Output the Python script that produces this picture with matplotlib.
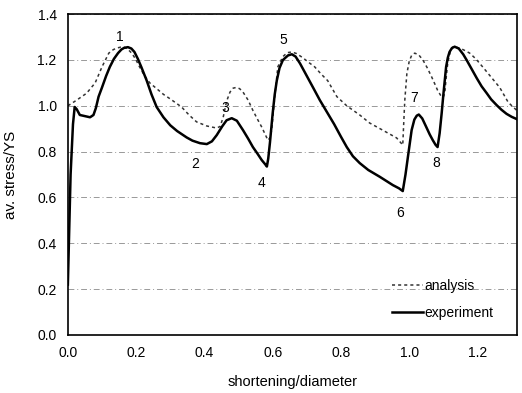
import matplotlib
matplotlib.use("Agg")
import matplotlib.pyplot as plt

plt.rcParams['font.family'] = ['Liberation Sans', 'DejaVu Sans']

# experiment (solid)
exp_x = [0.0, 0.003, 0.008, 0.015, 0.02, 0.026, 0.035, 0.05, 0.065, 0.075, 0.082, 0.09,
         0.1, 0.112, 0.123, 0.135, 0.147, 0.157, 0.165, 0.176, 0.186, 0.195, 0.205, 0.215,
         0.231, 0.245, 0.26, 0.28, 0.30, 0.32, 0.348, 0.365, 0.387,
         0.407, 0.422, 0.436, 0.452, 0.465, 0.48, 0.495, 0.513, 0.528, 0.542, 0.556,
         0.568, 0.578, 0.583, 0.587, 0.592, 0.60,
         0.606, 0.612, 0.62, 0.63, 0.645, 0.656, 0.667, 0.68, 0.70, 0.72, 0.738, 0.758,
         0.78, 0.80, 0.817, 0.835, 0.855, 0.88, 0.914,
         0.952, 0.97, 0.981, 0.989, 0.996, 1.007, 1.015, 1.022, 1.028, 1.038, 1.05, 1.06,
         1.069, 1.077, 1.083, 1.089, 1.095, 1.1, 1.104,
         1.108, 1.113, 1.118, 1.125, 1.133, 1.145, 1.158, 1.168, 1.183, 1.198, 1.212,
         1.227, 1.24, 1.256, 1.27, 1.285, 1.30, 1.315]
exp_y = [0.22, 0.40, 0.70, 0.92, 0.995, 0.985, 0.96, 0.955, 0.95, 0.96, 0.99, 1.04,
         1.08, 1.13, 1.17, 1.205, 1.23, 1.246, 1.253, 1.256, 1.25, 1.235, 1.205, 1.17,
         1.11, 1.05, 0.995, 0.95, 0.915, 0.89, 0.862, 0.848, 0.837,
         0.833, 0.845, 0.872, 0.91, 0.937, 0.946, 0.935, 0.894, 0.857, 0.82, 0.79,
         0.763, 0.745, 0.735, 0.77, 0.84, 0.968,
         1.05, 1.11, 1.165, 1.20, 1.22, 1.225, 1.215, 1.185, 1.13, 1.075, 1.025, 0.975,
         0.92, 0.865, 0.82, 0.78, 0.75, 0.72, 0.69,
         0.654, 0.64, 0.628, 0.70, 0.776, 0.894, 0.94, 0.957, 0.962, 0.945, 0.907, 0.875,
         0.85, 0.83, 0.82, 0.88, 0.968, 1.05, 1.11,
         1.17, 1.21, 1.235, 1.252, 1.258, 1.25, 1.225, 1.2, 1.16, 1.12, 1.085,
         1.055, 1.028, 1.003, 0.983, 0.965, 0.952, 0.942]

# analysis (dotted)
ana_x = [0.0, 0.026, 0.055, 0.08, 0.1, 0.12, 0.133, 0.143, 0.155, 0.167, 0.177, 0.187,
         0.198, 0.21, 0.225, 0.24, 0.26, 0.28,
         0.30, 0.333, 0.355, 0.377, 0.407, 0.436, 0.446, 0.455, 0.465, 0.475, 0.484,
         0.493, 0.503, 0.513, 0.528,
         0.542, 0.556, 0.568, 0.586, 0.592, 0.597, 0.606, 0.615, 0.63, 0.643, 0.656, 0.67,
         0.688, 0.705, 0.723, 0.741, 0.761,
         0.788, 0.817, 0.855, 0.884, 0.922, 0.963, 0.981, 0.984, 0.987, 0.993, 1.0, 1.007,
         1.016, 1.028, 1.04, 1.053, 1.066, 1.075, 1.083, 1.095, 1.1, 1.104, 1.108, 1.113,
         1.12, 1.127, 1.14, 1.158, 1.177, 1.195, 1.215, 1.24,
         1.265, 1.29, 1.315]
ana_y = [1.0, 1.025, 1.055, 1.10, 1.17, 1.23, 1.245, 1.252, 1.256, 1.255, 1.245, 1.23,
         1.205, 1.17, 1.13, 1.10, 1.075, 1.05,
         1.03, 0.995, 0.96, 0.93, 0.912, 0.903, 0.91, 0.95, 1.02, 1.06, 1.077,
         1.08, 1.075, 1.06, 1.025,
         0.98, 0.94, 0.907, 0.85, 0.86, 0.894, 1.04, 1.17, 1.215, 1.232, 1.235, 1.228,
         1.21, 1.19, 1.17, 1.14, 1.11,
         1.04, 1.0, 0.96, 0.925, 0.894, 0.86, 0.829, 0.93, 1.025, 1.14, 1.195, 1.22,
         1.23, 1.222, 1.20, 1.165, 1.125, 1.095, 1.068, 1.038, 1.04, 1.055, 1.12, 1.19,
         1.235, 1.256, 1.255, 1.245, 1.23, 1.205, 1.17, 1.125,
         1.08, 1.015, 0.98]

point_labels = ['1', '2', '3', '4', '5', '6', '7', '8']
label_x = [0.152, 0.372, 0.46, 0.568, 0.632, 0.972, 1.013, 1.08]
label_y = [1.30, 0.746, 0.99, 0.663, 1.286, 0.532, 1.033, 0.75]

xticks = [0.0, 0.2, 0.4, 0.6, 0.8, 1.0, 1.2]
yticks = [0.0, 0.2, 0.4, 0.6, 0.8, 1.0, 1.2, 1.4]

fig = plt.figure(figsize=(5.22, 3.93), dpi=100)
ax = fig.add_axes([0.130, 0.1476, 0.860, 0.8164])

ax.plot(ana_x, ana_y, linestyle=(0, (2, 2)), color='#333333', lw=1.1, label='analysis')
ax.plot(exp_x, exp_y, linestyle='-', color='black', lw=1.8, label='experiment')

for t, lx, ly in zip(point_labels, label_x, label_y):
    ax.text(lx, ly, t, fontsize=10, ha='center', va='center', color='black')

ax.set_xlim(0, 1.315)
ax.set_ylim(0, 1.4)
ax.set_xticks(xticks)
ax.set_yticks(yticks)
ax.set_xticklabels([f'{v:.1f}' for v in xticks], fontsize=10)
ax.set_yticklabels([f'{v:.1f}' for v in yticks], fontsize=10)
ax.tick_params(length=0, pad=8)
ax.yaxis.grid(True, linestyle=(0, (6, 3, 1, 3)), color='#999999', lw=0.7)
ax.set_axisbelow(True)
for s in ax.spines.values():
    s.set_color('black')
    s.set_linewidth(1.2)

ax.set_xlabel('shortening/diameter', fontsize=10.5)
ax.xaxis.set_label_coords(0.5, -0.125)
ax.set_ylabel('av. stress/YS', fontsize=11)
ax.yaxis.set_label_coords(-0.111, 0.5)

ax.legend(loc='upper left', bbox_to_anchor=(0.722, 0.174), frameon=False,
          fontsize=10, handlelength=2.2, handletextpad=0.1, labelspacing=0.9,
          borderpad=0, borderaxespad=0)

fig.savefig('out.png', dpi=100)
